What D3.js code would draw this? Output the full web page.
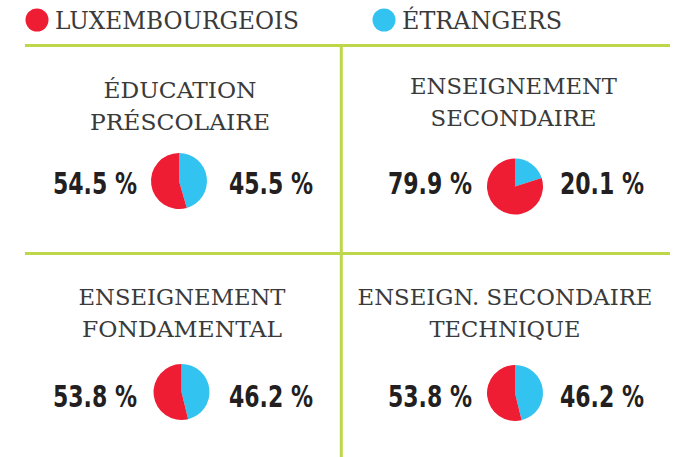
<!DOCTYPE html>
<html>
<head>
<meta charset="utf-8">
<script src="https://cdn.jsdelivr.net/npm/d3@7"></script>
<style>
	body { margin: 0; background: #fff; }
	svg { display: block; }
</style>
</head>
<body>
<div class="plot"></div>
<script>
//Data
const categories = [
	['ÉDUCATION', 'PRÉSCOLAIRE'],
	['ENSEIGNEMENT', 'SECONDAIRE'],
	['ENSEIGNEMENT', 'FONDAMENTAL'],
	['ENSEIGN. SECONDAIRE', 'TECHNIQUE']
];
const luxembourgeois = [54.5, 79.9, 53.8, 53.8];
const etrangers = [45.5, 20.1, 46.2, 46.2];
const seriesNames = ['LUXEMBOURGEOIS', 'ÉTRANGERS'];

const w = 686, h = 457;
const red = '#ee1d34', blue = '#33c3f1', green = '#bdd74b';
const slab = '"DejaVu Serif", "Liberation Serif", serif';
const narrow = '"Liberation Sans Narrow", "DejaVu Sans Condensed", "Roboto", sans-serif';

const svg = d3.select('.plot').append('svg').attr('width', w).attr('height', h);

//Legend
const legend = svg.selectAll('.legend')
	.data(seriesNames)
	.enter()
	.append('g')
	.attr('class', 'legend')
	.attr('transform', (d, i) => `translate(${i === 0 ? 37 : 384}, 20)`);
legend.append('circle').attr('r', 11.5).style('fill', (d, i) => i === 0 ? red : blue);
legend.append('text')
	.attr('x', 18).attr('y', 9)
	.text(d => d)
	.style('font-family', slab)
	.style('font-size', '24px')
	.style('fill', '#3a3a3a')
	.attr('textLength', (d, i) => i === 0 ? 244 : 160)
	.attr('lengthAdjust', 'spacingAndGlyphs');

//Grid lines
svg.append('g').selectAll('line')
	.data([45.5, 253.5])
	.enter().append('line')
	.attr('x1', 25).attr('x2', 670)
	.attr('y1', d => d).attr('y2', d => d)
	.style('stroke', green).style('stroke-width', 3);
svg.append('line')
	.attr('x1', 341.3).attr('x2', 341.3).attr('y1', 44).attr('y2', h)
	.style('stroke', green).style('stroke-width', 3);

//Panels
const pie = d3.pie().sort(null).value(d => d.value);
const arc = d3.arc().innerRadius(0).outerRadius(28);

//layout of each cell (pie centre, title, labels)
const cells = [
	{cx: 179, py: 181, tx: 180, ty: 98, ly: 194, lx: 137, rx: 229},
	{cx: 515, py: 186.5, tx: 513.5, ty: 94, ly: 194, lx: 472, rx: 560},
	{cx: 181.5, py: 392, tx: 182, ty: 305, ly: 406.5, lx: 137, rx: 229},
	{cx: 515, py: 393, tx: 505, ty: 305, ly: 406.5, lx: 472, rx: 560}
];
//measured title line widths
const titleWidths = [[153, 180], [207, 166], [207, 200], [295, 151]];

const panels = svg.selectAll('.panel')
	.data(categories.map((c, i) => ({
		lines: c,
		widths: titleWidths[i],
		lux: luxembourgeois[i],
		etr: etrangers[i],
		pos: cells[i]
	})))
	.enter()
	.append('g')
	.attr('class', 'panel');

//titles
panels.each(function(d){
	d3.select(this).selectAll('.title')
		.data(d.lines)
		.enter().append('text')
		.attr('class', 'title')
		.attr('text-anchor', 'middle')
		.attr('x', d.pos.tx)
		.attr('y', (l, j) => d.pos.ty + j * 32)
		.attr('textLength', (l, j) => d.widths[j])
		.attr('lengthAdjust', 'spacingAndGlyphs')
		.style('font-family', slab)
		.style('font-size', '22px')
		.style('fill', '#3a3a3a')
		.text(l => l);
});

//pies
panels.append('g')
	.attr('transform', d => `translate(${d.pos.cx}, ${d.pos.py})`)
	.selectAll('path')
	.data(d => pie([{key: 'etr', value: d.etr}, {key: 'lux', value: d.lux}]))
	.enter().append('path')
	.attr('d', arc)
	.style('fill', d => d.data.key === 'lux' ? red : blue);

//percent labels
const fmt = v => d3.format('.1f')(v) + ' %';
panels.append('text')
	.attr('class', 'pct')
	.attr('x', d => d.pos.lx - 84)
	.attr('y', d => d.pos.ly)
	.text(d => fmt(d.lux));
panels.append('text')
	.attr('class', 'pct')
	.attr('x', d => d.pos.rx)
	.attr('y', d => d.pos.ly)
	.text(d => fmt(d.etr));
panels.selectAll('.pct')
	.attr('textLength', 84)
	.attr('lengthAdjust', 'spacingAndGlyphs')
	.style('font-family', narrow)
	.style('font-weight', 'bold')
	.style('font-size', '31px')
	.style('fill', '#231f20');
</script>
</body>
</html>
